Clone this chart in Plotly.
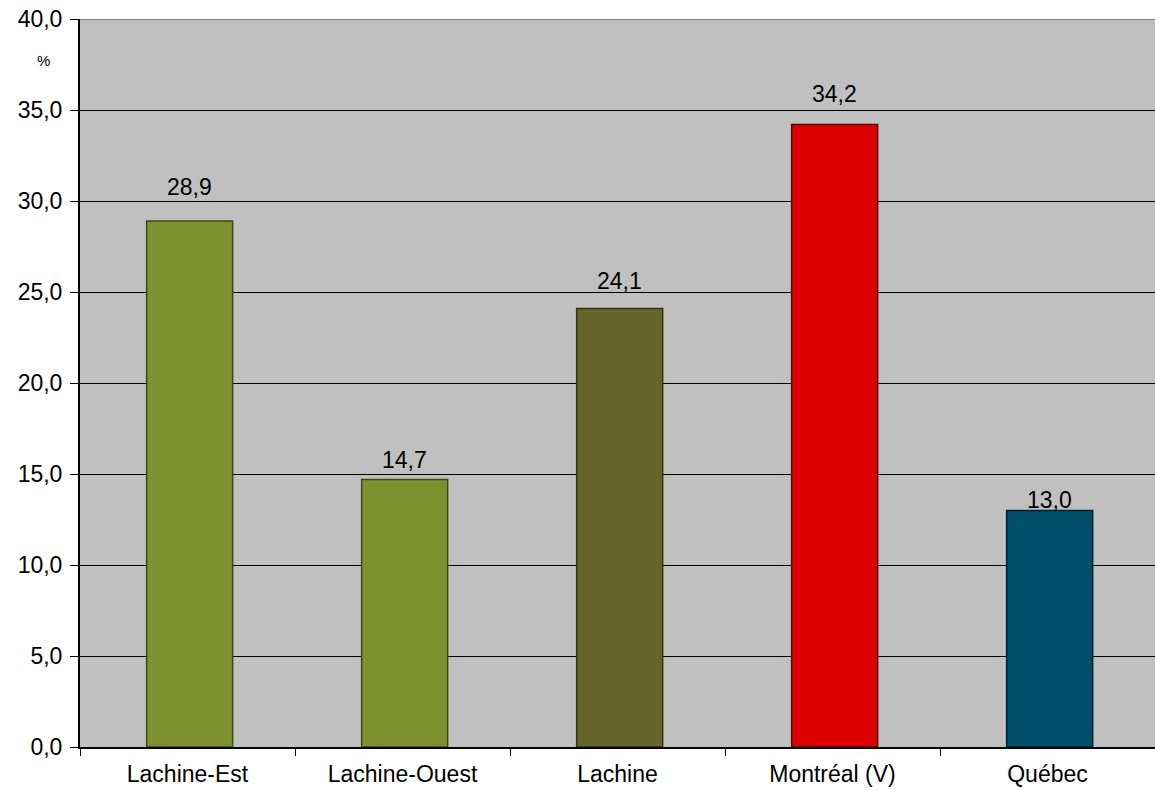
import plotly.graph_objects as go

categories = ["Lachine-Est", "Lachine-Ouest", "Lachine", "Montréal (V)", "Québec"]
values = [28.9, 14.7, 24.1, 34.2, 13.0]
colors = ["#7F912F", "#7F912F", "#66662A", "#DD0000", "#004F6A"]
line_colors = ["#3E4A10", "#3E4A10", "#33330F", "#600000", "#002030"]
label_shift_px = [34, 19, 27, 31, 10]
y_ticks = [0, 5, 10, 15, 20, 25, 30, 35, 40]

FONT = "Liberation Sans, Arial, sans-serif"
FS = 23

fig = go.Figure()
fig.add_trace(go.Bar(
    x=categories,
    y=values,
    marker=dict(color=colors, line=dict(color=line_colors, width=1.5)),
    width=0.4,
    offset=-0.19,
    hoverinfo="skip",
))

for cat, val, sh in zip(categories, values, label_shift_px):
    fig.add_annotation(
        x=cat, y=val, xref="x", yref="y",
        text=f"{val:.1f}".replace(".", ","),
        showarrow=False, yanchor="middle", yshift=sh, xshift=2,
        font=dict(family=FONT, size=FS, color="black"),
    )

fig.update_layout(
    width=1155, height=790,
    margin=dict(l=80, r=0, t=19, b=43),
    paper_bgcolor="white",
    plot_bgcolor="#C0C0C0",
    separators=", ",
    showlegend=False,
    font=dict(family=FONT, size=FS, color="black"),
)
fig.update_yaxes(
    range=[0, 40],
    tickvals=y_ticks,
    tickformat=".1f",
    showgrid=True, gridcolor="black", gridwidth=1,
    showline=True, linecolor="black", linewidth=2,
    ticks="outside", ticklen=8, tickcolor="black",
    ticklabelstandoff=3,
    tickfont=dict(size=FS),
    zeroline=False,
)
fig.update_xaxes(
    showline=True, linecolor="black", linewidth=2,
    ticks="outside", ticklen=7, tickcolor="black",
    tickson="boundaries",
    ticklabelstandoff=5,
    tickfont=dict(size=FS),
    showgrid=False,
)
fig.add_shape(type="line", xref="paper", yref="y", x0=0, x1=1, y0=40, y1=40,
              line=dict(color="#808080", width=2))
fig.add_annotation(text="%", xref="paper", yref="y", x=-0.0423, y=37.7,
                   showarrow=False, font=dict(family=FONT, size=15, color="black"))

fig.write_html(
    "out.html",
    config={"displayModeBar": False},
    post_script="document.body.style.margin='0';document.body.style.overflow='hidden';",
)
